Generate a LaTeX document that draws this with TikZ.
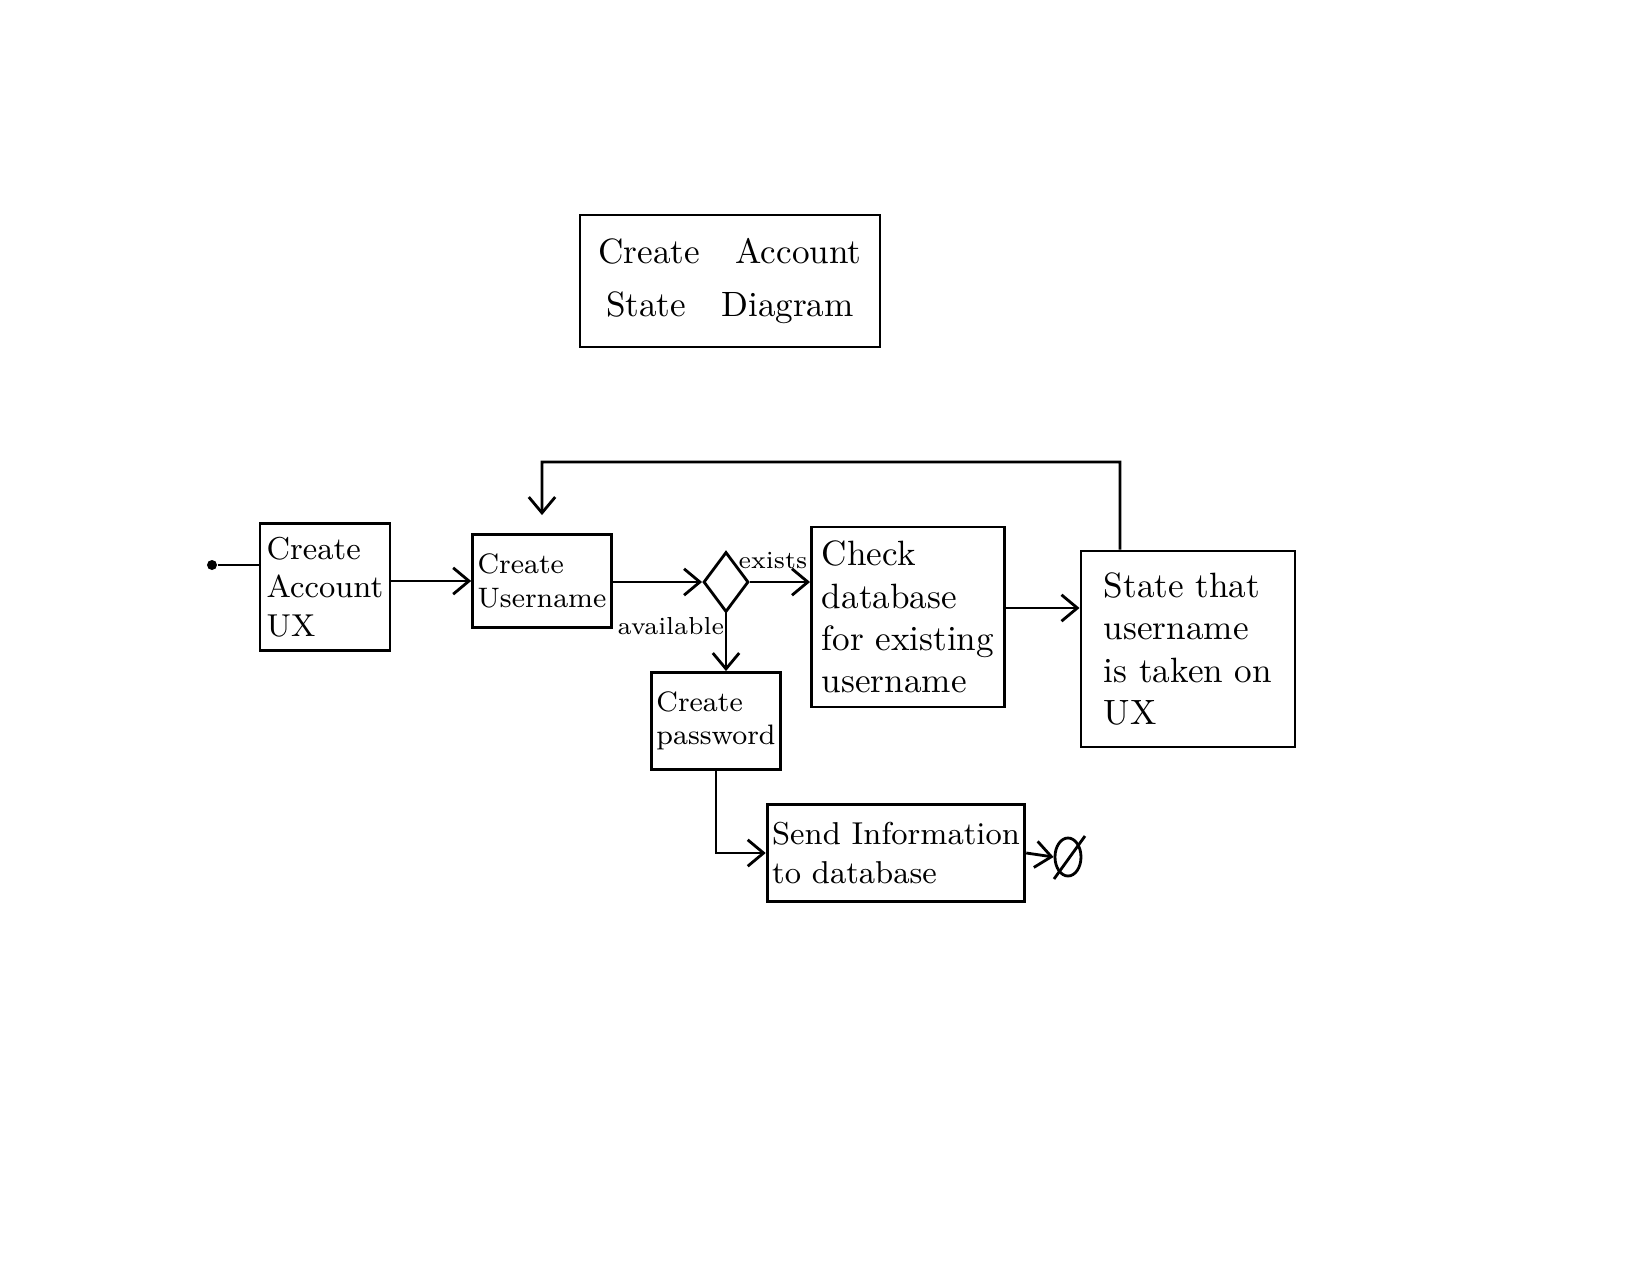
\documentclass[tikz,border=0pt]{standalone}
\usetikzlibrary{positioning, arrows.meta, shapes.geometric}

\begin{document}
\begin{tikzpicture}[x=0.01cm, y=-0.01cm,
    box/.style={draw, thick, inner sep=0.05cm, align=left},
    flow/.style={thick, -{Straight Barb[length=4.5pt, width=7.5pt]}},
    plain/.style={thick}]
    \useasboundingbox (0,0) rectangle (1650,1275);

    %% title
    \node[box, align=center, minimum width=3cm, minimum height=1.32cm] (title) at (730,281)
        {Create\ \ \ Account\\[3pt]State\ \ \ Diagram};

    %% states
    \node[fill, circle, inner sep=0pt, minimum size=0.1cm] (init) at (212,565) {};
    \node[box, font=\small, minimum width=1.3cm, minimum height=1.27cm] (acct) at (325,587) {Create\\Account\\UX};
    \node[box, font=\footnotesize, minimum width=1.31cm, minimum height=0.93cm] (user) at (542,581) {Create\\Username};
    \node[draw, thick, diamond, inner sep=0pt, minimum width=0.45cm, minimum height=0.6cm] (dec) at (726,582) {};
    \node[box, minimum width=1.93cm, minimum height=1.8cm] (check) at (908,617) {Check\\database\\for existing\\username};
    \node[box, minimum width=2.14cm, minimum height=1.96cm] (state) at (1188,649) {State that\\username\\is taken on\\UX};
    \node[box, font=\footnotesize, minimum width=1.22cm, minimum height=0.97cm] (pass) at (716,721) {Create\\password};
    \node[box, font=\small, minimum width=2.52cm, minimum height=0.97cm] (send) at (896,853) {Send Information\\to database};
    \node[draw, thick, ellipse, inner sep=0pt, minimum width=0.26cm, minimum height=0.38cm] (final) at (1068,857) {};
    \draw[thick] ([shift={(-14,22)}]final.center) -- ([shift={(17,-21)}]final.center);

    %% transitions
    \coordinate (looptop) at (1120,462);
    \draw[plain] (init) -- (init -| acct.west);
    \draw[flow] (acct.east |- user) -- (user.west);
    \draw[flow] (user.east |- dec) -- (dec.west) node[pos=0, below right, font=\scriptsize, inner sep=1pt, yshift=-0.3cm] (avail) {available};
    \draw[flow] (dec.east) -- (dec.east -| check.west) node[midway, above, font=\scriptsize, xshift=-2pt] (exists) {exists};
    \draw[flow] (dec.south) -- (dec.south |- pass.north);
    \draw[flow] ([yshift=0.09cm]check.east) -- ([yshift=0.09cm]check.east -| state.west);
    \draw[flow, shorten >=0.18cm] ([xshift=-0.68cm]state.north) -- (looptop) -| (user.north);
    \draw[flow] (pass.south) |- (send.west);
    \draw[flow] (send.east) -- (final.west);
\end{tikzpicture}
\end{document}
